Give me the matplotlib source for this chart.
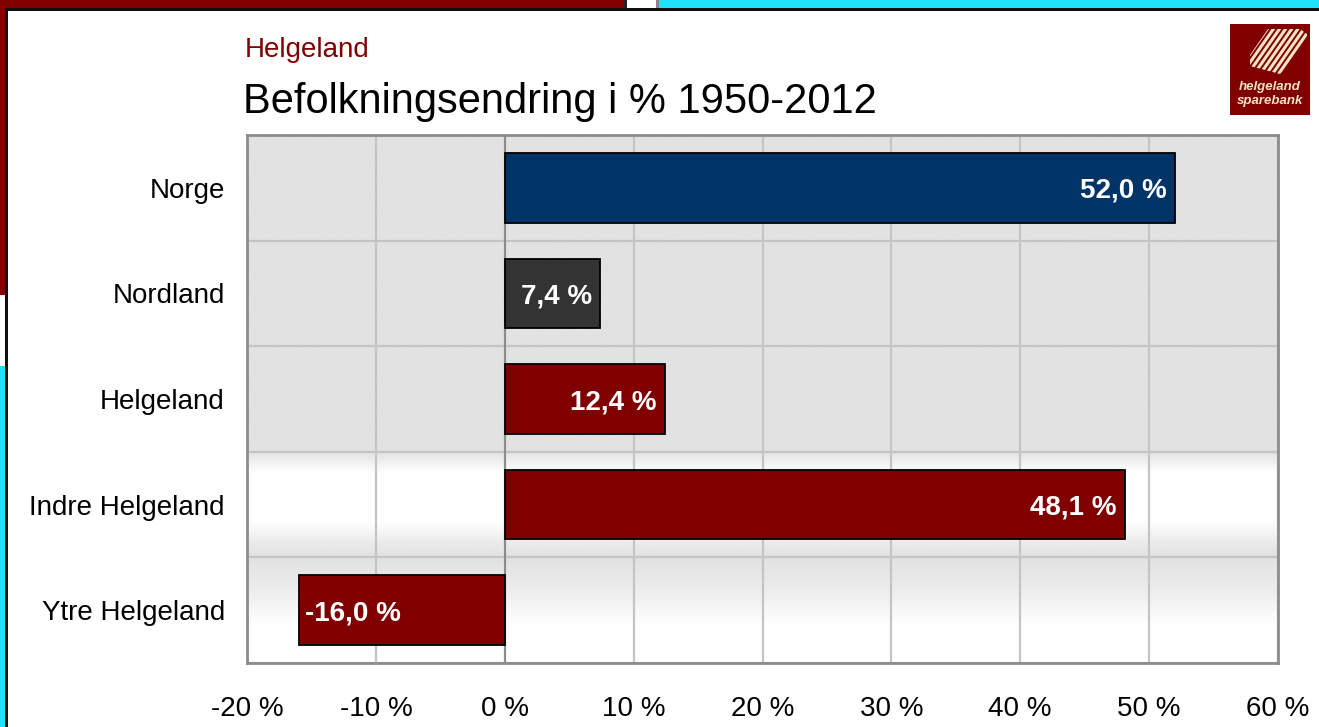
import numpy as np
import matplotlib
matplotlib.use('Agg')
import matplotlib.pyplot as plt
from matplotlib.patches import Rectangle, Polygon

categories = ['Norge', 'Nordland', 'Helgeland', 'Indre Helgeland', 'Ytre Helgeland']
values = [52.0, 7.4, 12.4, 48.1, -16.0]
bar_colors = ['#003366', '#333333', '#800000', '#800000', '#800000']
xticks = [-20, -10, 0, 10, 20, 30, 40, 50, 60]

plt.rcParams['font.family'] = ['Liberation Sans', 'DejaVu Sans']

W, H = 1319, 727
fig = plt.figure(figsize=(W / 100, H / 100), dpi=100)
fig.patch.set_facecolor('white')

def px_rect(x0, y0, x1, y1, color):
    fig.patches.append(Rectangle((x0 / W, 1 - y1 / H), (x1 - x0) / W, (y1 - y0) / H,
                                 transform=fig.transFigure, facecolor=color,
                                 edgecolor='none', zorder=0))

# screenshot leftovers around the slide
px_rect(0, 0, 624, 8, '#800000')
px_rect(659, 0, W, 8, '#1CE4F6')
px_rect(0, 0, 5, 295, '#800000')
px_rect(0, 366, 5, H, '#1CE4F6')
px_rect(624, 0, 627, 8, '#222222')
px_rect(656, 0, 659, 8, '#888888')
px_rect(5, 8, W, 11, '#111111')
px_rect(5, 8, 8, H, '#111111')

ax = fig.add_axes([247 / W, 1 - 663 / H, 1031 / W, 528 / H])

# background gradient of the plot area
stops = [(0.0, 0.886), (0.60, 0.886), (0.64, 1.0), (0.73, 1.0), (0.776, 0.915),
         (0.80, 0.88), (0.867, 0.93), (0.93, 1.0), (1.0, 1.0)]
t = np.linspace(0, 1, 400)
prof = np.interp(t, [s[0] for s in stops], [s[1] for s in stops])
grad = np.repeat(prof[:, None], 2, axis=1)
ax.imshow(grad, cmap='gray', vmin=0, vmax=1, aspect='auto', extent=[0, 1, 0, 1],
          transform=ax.transAxes, zorder=0, interpolation='bilinear')

y = np.arange(len(categories))
ax.barh(y, values, height=0.66, color=bar_colors, edgecolor='black', linewidth=1.3, zorder=3)

for yi, v in zip(y, values):
    lab = f"{v:.1f} %".replace('.', ',')
    if v >= 0:
        ax.annotate(lab, (v, yi), xytext=(-6, 0), textcoords='offset points',
                    ha='right', va='center_baseline', color='white', fontsize=20,
                    fontweight='bold', zorder=4)
    else:
        ax.annotate(lab, (v, yi), xytext=(5, 0), textcoords='offset points',
                    ha='left', va='center_baseline', color='white', fontsize=20,
                    fontweight='bold', zorder=4)

ax.set_xlim(-20, 60)
ax.set_ylim(len(categories) - 0.5, -0.5)
ax.set_xticks(xticks)
ax.set_xticklabels([f"{x} %" for x in xticks])
ax.set_yticks(y)
ax.set_yticklabels(categories, va='center_baseline')
ax.set_yticks(np.arange(-0.5, len(categories)), minor=True)
ax.tick_params(axis='both', which='both', length=0, labelsize=20)
ax.tick_params(axis='x', pad=24)
ax.tick_params(axis='y', pad=16)

ax.grid(axis='x', which='major', color='#C4C4C4', linewidth=1.6, zorder=1)
ax.grid(axis='y', which='minor', color='#C4C4C4', linewidth=1.6, zorder=1)
ax.set_axisbelow(True)
ax.axvline(0, color='#8C8C8C', linewidth=1.5, zorder=2)
for s in ax.spines.values():
    s.set_color('#8C8C8C')
    s.set_linewidth(2)

fig.text(245 / W, 1 - 47 / H, 'Helgeland', color='#800000', fontsize=20,
         va='center_baseline', ha='left')
fig.text(243 / W, 1 - 98 / H, 'Befolkningsendring i % 1950-2012', color='black', fontsize=30,
         va='center_baseline', ha='left')

# logo
lax = fig.add_axes([1230 / W, 1 - 115 / H, 80 / W, 91 / H])
lax.set_xlim(0, 80)
lax.set_ylim(91, 0)
lax.set_facecolor('#800000')
lax.set_xticks([])
lax.set_yticks([])
for s in lax.spines.values():
    s.set_visible(False)
cream = '#F4E4C6'
clip = Polygon([(38, 5), (70, 5), (77, 10), (77, 30), (50, 50), (20, 42), (20, 31)],
               closed=True, transform=lax.transData, facecolor='none', edgecolor='none')
lax.add_patch(clip)
d = np.array([-0.7, 1.0]) / np.hypot(0.7, 1.0)
nrm = np.array([d[1], -d[0]])
for k in range(9):
    c = np.array([32.0, 30.0]) + nrm * (k - 3) * 5.0
    p0, p1 = c - d * 60, c + d * 60
    ln, = lax.plot([p0[0], p1[0]], [p0[1], p1[1]], color=cream, linewidth=2.2,
                   solid_capstyle='butt')
    ln.set_clip_path(clip)
lax.text(40, 63, 'helgeland', color=cream, fontsize=9.5, fontstyle='italic', fontweight='bold',
         ha='center', va='center', zorder=6)
lax.text(40, 77, 'sparebank', color=cream, fontsize=9.5, fontstyle='italic', fontweight='bold',
         ha='center', va='center', zorder=6)

fig.savefig('out.png', dpi=100)
